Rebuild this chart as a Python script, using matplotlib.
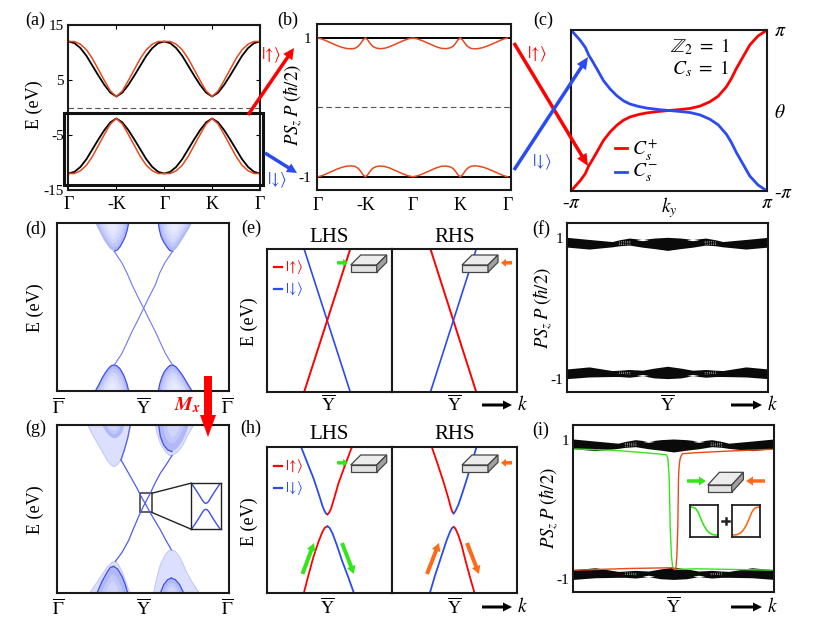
import numpy as np
import matplotlib
matplotlib.use("Agg")
import matplotlib.pyplot as plt
from matplotlib.patches import Polygon, Rectangle

plt.rcParams['font.family'] = ['Liberation Serif', 'DejaVu Serif']
plt.rcParams['mathtext.fontset'] = 'stix'
plt.rcParams['font.size'] = 13

RED, BLUE = '#ff0000', '#2b4bf0'
ORANGE, GREEN = '#e8481c', '#33e61a'
ARROW_OR = '#ff6a1a'
CONE = '#6c78ee'

# (a) band energies, half period Gamma -> -K
k_half = [0, .125, .25, .375, .5, .625, .75, .875, 1]
a_black_up = [12, 11.7, 10.8, 9.4, 7.6, 5.8, 4.1, 2.7, 2]
a_orange_up = [12, 12.0, 11.5, 10.5, 8.9, 6.9, 4.9, 3.0, 2]
# (b) polarisation of the valence band, half period
b_k = [0, .1, .2, .3, .4, .5, .6, .7, .78, .85, .9, .95, 1, 1.05, 1.1, 1.15, 1.22, 1.3, 1.4, 1.5, 1.6, 1.7, 1.8, 1.9, 2]
b_up = [1, .98, .95, .92, .89, .865, .848, .842, .85, .88, .92, .97, 1, .97, .92, .88, .855, .845, .85, .87, .9, .93,
        .96, .985, 1]
# (c) Wannier centres, in units of pi
c_k = [-1, -.956, -.905, -.854, -.82, -.78, -.735, -.668, -.6, -.532, -.464, -.397, -.31, -.227, -.108, 0, .112, .213,
       .315, .417, .502, .586, .637, .688, .756, .824, .908, 1]
c_plus = [-1, -.94, -.87, -.784, -.69, -.61, -.515, -.37, -.266, -.183, -.12, -.08, -.05, -.03, -.012, 0, .012, .025,
          .054, .108, .178, .295, .398, .523, .668, .813, .925, 1]
# (d) bulk cones and edge states, in reading units of the panel
d_cones = [
    ([285, 292, 300, 310, 320, 330, 342, 352, 360, 368, 375, 381, 385],
     [40, 55, 70, 90, 105, 118, 125, 120, 110, 95, 80, 60, 40], 'right'),
    ([474, 477, 482, 490, 500, 508, 517, 527, 537, 547, 555, 566, 575],
     [40, 60, 80, 97, 112, 122, 125, 118, 103, 88, 75, 57, 40], 'left'),
    ([285, 295, 305, 315, 325, 333, 342, 350, 358, 366, 372, 380, 385],
     [543, 525, 505, 488, 475, 467, 465, 468, 475, 488, 500, 522, 543], 'both'),
    ([474, 478, 485, 492, 500, 508, 517, 526, 535, 544, 552, 564, 575],
     [543, 522, 500, 485, 475, 467, 465, 470, 480, 492, 505, 525, 543], 'both'),
]
d_ss1_x = [342, 353, 365, 380, 395, 412, 430, 447, 465, 480, 495, 507, 517]
d_ss1_y = [125, 142, 160, 190, 225, 260, 295, 330, 365, 398, 430, 450, 465]
d_ss2_x = [517, 505, 493, 478, 465, 447, 430, 413, 395, 380, 365, 352, 342]
d_ss2_y = [125, 142, 160, 190, 225, 260, 295, 330, 365, 398, 430, 450, 465]
# (e) helical edge states
e_x = [-1, 1]
e_y_down = [1, -1]
# (f) polarisation band envelopes
f_x = [-1, -.78, -.55, -.48, -.38, -.25, -.13, 0, .13, .25, .38, .48, .55, .78, 1]
f_up_top = [1.01, .98, .95, .975, 1.0, .98, 1.0, 1.01, 1.0, .98, 1.0, .975, .95, .98, 1.01]
f_up_bot = [.871, .843, .875, .89, .90, .87, .85, .824, .85, .87, .90, .89, .875, .843, .871]
f_dn_top = [-.862, -.833, -.885, -.88, -.87, -.88, -.85, -.824, -.85, -.88, -.87, -.88, -.885, -.833, -.862]
f_dn_bot = [-1, -.976, -.97, -.97, -.98, -.96, -.99, -1, -.99, -.96, -.98, -.97, -.97, -.976, -1]
hole_x = [.19, .25, .31]
hole_up_a = [.975, .962, .975]
hole_up_b = [.975, .99, .975]
hole_dn_a = [-.955, -.94, -.955]
hole_dn_b = [-.955, -.965, -.955]
# (g) bulk cones and gapped edge states, in reading units of the panel
g_outer = [
    ([262, 280, 300, 320, 332, 340, 350, 362, 372, 382, 390], [45, 80, 115, 150, 165, 170, 165, 150, 120, 85, 45]),
    ([465, 470, 480, 495, 505, 515, 530, 545, 560, 580], [45, 70, 100, 125, 135, 137, 128, 110, 80, 45]),
    ([268, 285, 305, 322, 335, 345, 355, 367, 378, 388], [550, 525, 495, 470, 458, 455, 465, 490, 520, 550]),
    ([460, 468, 480, 495, 505, 513, 525, 540, 560, 580, 597], [550, 510, 465, 435, 423, 420, 425, 445, 490, 525, 550]),
]
g_inner = [
    ([305, 315, 325, 335, 345, 355, 365, 372], [45, 62, 75, 83, 85, 80, 68, 45], 'none'),
    ([475, 480, 490, 502, 515, 530, 545, 557, 565], [45, 80, 105, 120, 125, 115, 95, 70, 45], 'left'),
    ([290, 305, 320, 330, 340, 352, 365, 375, 382], [550, 515, 488, 473, 470, 478, 500, 525, 550], 'both'),
    ([480, 490, 502, 513, 525, 538, 550], [550, 525, 510, 505, 510, 525, 550], 'both'),
]
g_edge_x = [390, 382, 372, 362]
g_edge_y = [45, 85, 120, 150]
g_ss1_x = [362, 378, 395, 410, 420, 428, 436, 445, 455, 468, 480, 497, 513]
g_ss1_y = [150, 178, 208, 235, 255, 270, 283, 300, 318, 340, 360, 392, 420]
g_ss2_x = [515, 497, 480, 465, 450, 442, 436, 428, 415, 400, 385, 365, 345]
g_ss2_y = [137, 165, 190, 218, 250, 265, 277, 292, 320, 355, 392, 428, 455]
inset_x = [-1, -.7, -.45, -.25, -.12, 0, .12, .25, .45, .7, 1]
inset_up = [1, .68, .4, .16, .04, 0, .04, .16, .4, .68, 1]
# (h) gapped edge states, in reading units of the panel
hL_blue_up = ([198, 215, 235, 250, 262, 268, 273, 277], [112, 155, 205, 250, 288, 303, 311, 313])
hL_red_up = ([277, 282, 288, 297, 310, 330, 350], [313, 308, 295, 265, 220, 165, 112])
hL_red_lo = ([207, 220, 235, 250, 262, 270, 277], [545, 495, 440, 395, 365, 352, 349])
hL_blue_lo = ([277, 283, 292, 305, 320, 337, 355], [349, 353, 370, 405, 450, 495, 545])
hR_red_up = ([590, 605, 625, 640, 648, 652, 656], [112, 155, 215, 265, 295, 306, 310])
hR_blue_up = ([656, 661, 670, 682, 695, 710, 725], [310, 304, 285, 250, 210, 160, 112])
hR_blue_lo = ([585, 600, 620, 635, 645, 651, 656], [545, 495, 435, 390, 365, 354, 351])
hR_red_lo = ([656, 661, 670, 680, 690, 705, 718], [351, 355, 375, 405, 445, 500, 545])
# (i) edge-state polarisation
i_gx = [-.98, -.6, -.26, -.08, -.066, -.056, -.05, -.043, -.033, -.02, -.007, .01, .23, .98]
i_gy = [.867, .848, .81, .786, .776, .73, .6, .467, -.248, -.676, -.838, -.857, -.848, -.867]
i_ox = [-.98, -.43, -.017, .023, .033, .043, .05, .056, .066, .08, .093, .232, .563, .98]
i_oy = [-.867, -.843, -.833, -.857, -.676, -.248, .467, .62, .73, .78, .8, .814, .838, .862]
sig_x = [0, .1, .2, .3, .4, .5, .6, .7, .8, .9, 1]
sig_y = [1, .99, .95, .8, .55, .33, .17, .07, .02, 0, 0]

fig = plt.figure(figsize=(8.30, 6.23), dpi=100)
W, H = 830, 623


def panel(x0, y0, x1, y1, lw=1.5):
    ax = fig.add_axes([x0 / W, 1 - y1 / H, (x1 - x0) / W, (y1 - y0) / H])
    for s in ax.spines.values():
        s.set_linewidth(lw)
        s.set_color('#1a1a1a')
    ax.tick_params(length=0, labelsize=13)
    return ax


def full(x):
    x = np.asarray(x, float)
    return np.concatenate([x, 4 - x[-2::-1]])


def sym(y):
    y = np.asarray(y, float)
    return np.concatenate([y, y[-2::-1]])


G = r'$\overline{\mathrm{\Gamma}}$'
Y = r'$\overline{\mathrm{Y}}$'
kx_labels = ['Γ', '-K', 'Γ', 'K', 'Γ']
UP = r'$|\!\uparrow\!\rangle$'
DN = r'$|\!\downarrow\!\rangle$'

# ---------- (a)
ax = panel(68, 25, 260, 190)
kk = np.concatenate([k_half, 2 - np.array(k_half[-2::-1])])
kf = full(kk)
bu, ou = sym(sym(a_black_up)), sym(sym(a_orange_up))
for s in (1, -1):
    ax.plot(kf, s * bu, color='black', lw=1.3)
    ax.plot(kf, s * ou, color=ORANGE, lw=1.1)
ax.axhline(0, color='#555555', lw=.8, ls=(0, (5, 3)))
ax.set_xlim(-.01, 4.0)
ax.set_ylim(-15, 15)
ax.set_xticks([0, 1, 2, 3, 4], kx_labels)
ax.set_yticks([15, 5, -5, -15], ['15', '5', '-5', '-15'])
ax.tick_params(axis='y', direction='in', length=3, labelsize=11, right=True, pad=3)
ax.tick_params(axis='x', direction='in', length=3, top=True, pad=4)

# ---------- (b)
ax = panel(317, 24, 511, 190)
bkf = full(b_k)
byf = sym(b_up)
for s in (1, -1):
    ax.axhline(s, color='black', lw=1.4)
    ax.plot(bkf, s * byf, color=ORANGE, lw=1.1)
ax.axhline(0, color='#555555', lw=.8, ls=(0, (5, 3)))
ax.set_xlim(-.02, 4.07)
ax.set_ylim(-1.19, 1.2)
ax.set_xticks([0, 1, 2, 3, 4], kx_labels)
ax.set_yticks([1, -1], ['1', '-1'])
ax.tick_params(axis='y', labelsize=11, pad=4)
ax.tick_params(axis='x', pad=5)

# ---------- (c)
ax = panel(571, 30, 767, 191)
ax.plot(c_k, c_plus, color=RED, lw=2, solid_capstyle='round')
ax.plot(c_k, -np.array(c_plus), color=BLUE, lw=2, solid_capstyle='round')
ax.set_xlim(-1, 1)
ax.set_ylim(-1, 1)
ax.set_xticks([-1, 0, 1], ['-$\\pi$', '$k_y$', '$\\pi$'])
ax.yaxis.tick_right()
ax.set_yticks([-1, 0, 1], ['-$\\pi$', '$\\theta$', '$\\pi$'])
ax.tick_params(axis='both', labelsize=14)
ax.tick_params(axis='x', pad=3)
ax.tick_params(axis='y', pad=5)
ax.plot([-.55, -.43], [-.46, -.46], color=RED, lw=2)
ax.plot([-.55, -.43], [-.76, -.76], color=BLUE, lw=2)
ax.text(-.38, -.48, '$C_s^{+}$', ha='left', va='center', fontsize=14)
ax.text(-.38, -.78, '$C_s^{-}$', ha='left', va='center', fontsize=14)
ax.text(.32, .79, r'$\mathbb{Z}_2\ =\ 1$', ha='center', va='center', fontsize=14)
ax.text(.32, .52, r'$C_s\ =\ 1$', ha='center', va='center', fontsize=14)


def cone(ax, xs, ys, edge, scales=(1, .86, .72, .58, .44, .3)):
    xs, ys = np.asarray(xs, float), np.asarray(ys, float)
    cx, cy = (xs[0] + xs[-1]) / 2, ys[0]
    shades = ['#b0b8f7', '#c2c8f9', '#d0d5fb', '#dbdefc', '#e2e5fd', '#e8eafe']
    for s, c in zip(scales, shades):
        ax.fill(cx + (xs - cx) * s, cy + (ys - cy) * s, color=c, lw=0)
    n = int(np.argmax(np.abs(ys - cy)))
    if edge in ('left', 'both'):
        ax.plot(xs[:n + 1], ys[:n + 1], color='#4050ea', lw=.9)
    if edge in ('right', 'both'):
        ax.plot(xs[n:], ys[n:], color='#4050ea', lw=.9)


# ---------- (d)
ax = panel(57, 223, 229, 391)
for cx, cy, side in d_cones:
    cone(ax, cx, cy, side)
ax.plot(d_ss1_x, d_ss1_y, color=CONE, lw=.8)
ax.plot(d_ss2_x, d_ss2_y, color=CONE, lw=.8)
ax.set_xlim(170, 686)
ax.set_ylim(543, 40)
ax.set_yticks([])
ax.set_xticks([175, 430, 681], [G, Y, G])
ax.tick_params(axis='x', pad=5)


def slab(o, x, y, w=26, h=7.3, dx=10, dy=10):
    """x,y = lower-left corner of the front face, pixels"""
    o.add_patch(Polygon([(x, y - h), (x + dx, y - h - dy), (x + w + dx, y - h - dy), (x + w, y - h)],
                        fc='#ececec', ec='#444444', lw=.9))
    o.add_patch(Polygon([(x, y), (x, y - h), (x + w, y - h), (x + w, y)], fc='#e2e2e2', ec='#444444', lw=.9))
    o.add_patch(Polygon([(x + w, y), (x + w, y - h), (x + w + dx, y - h - dy), (x + w + dx, y - dy)],
                        fc='#a0a0a0', ec='#444444', lw=.9))


def legend_spin(ax_o, y_up, y_dn):
    ax_o.plot([274, 282], [y_up, y_up], color=RED, lw=1.6)
    ax_o.plot([274, 282], [y_dn, y_dn], color=BLUE, lw=1.6)
    ax_o.text(285, y_up, UP, color=RED, fontsize=10.5, ha='left', va='center')
    ax_o.text(285, y_dn, DN, color=BLUE, fontsize=10.5, ha='left', va='center')


# ---------- (e)
axL = panel(267, 249, 392, 392)
axR = panel(392, 249, 517, 392)
axL.plot(e_x, e_y_down, color=BLUE, lw=1.2)
axL.plot(e_x, -np.array(e_y_down), color=RED, lw=1.4)
axR.plot(e_x, e_y_down, color=RED, lw=1.4)
axR.plot(e_x, -np.array(e_y_down), color=BLUE, lw=1.2)
axL.set_xlim(-2.61, 2.81)
axR.set_xlim(-2.68, 2.78)
for a in (axL, axR):
    a.set_ylim(-1, 1)
    a.set_yticks([])
    a.set_xticks([.06], [Y])
    a.tick_params(axis='x', pad=2)
axL.set_title('LHS', fontsize=15, pad=5)
axR.set_title('RHS', fontsize=15, pad=5)


def poly_band(ax, top, bot):
    ax.fill_between(f_x, bot, top, color='#0a0a0a', lw=0)


def holes(ax):
    for sx in (-1, 1):
        xs = sx * np.array(hole_x)
        ax.fill_between(xs, hole_up_a, hole_up_b, color='white', lw=0)
        ax.fill_between(xs, hole_dn_a, hole_dn_b, color='white', lw=0)
        for y0 in (.955, .935, .915):
            ax.plot([sx * .37, sx * .49], [y0, y0 - .01], color='#bbbbbb', lw=.5, ls=(0, (1.5, 1.5)))
        for y0 in (-.915, -.935):
            ax.plot([sx * .37, sx * .49], [y0, y0 + .01], color='#bbbbbb', lw=.5, ls=(0, (1.5, 1.5)))


# ---------- (f)
ax = panel(567, 223, 768, 392)
poly_band(ax, f_up_top, f_up_bot)
poly_band(ax, f_dn_top, f_dn_bot)
holes(ax)
ax.set_xlim(-1, 1)
ax.set_ylim(-1.19, 1.214)
ax.set_yticks([1, -1], ['1', '-1'])
ax.set_xticks([0], [Y])
ax.tick_params(axis='y', labelsize=11, pad=3)
ax.tick_params(axis='x', pad=2)

# ---------- (g)
ax = panel(57, 425, 229, 593)
for cx, cy in g_outer:
    ax.fill(cx, cy, color='#dcdffd', lw=0)
    ax.plot(cx, cy, color='#bfc5f8', lw=.7)
for cx, cy, side in g_inner:
    cone(ax, cx, cy, side, scales=(1, .7, .45))
ax.plot(g_edge_x, g_edge_y, color='#5a66ea', lw=1)
ax.plot(g_ss1_x, g_ss1_y, color='#4f5cea', lw=.9)
ax.plot(g_ss2_x, g_ss2_y, color='#4f5cea', lw=.9)
ax.add_patch(Rectangle((418, 250), 37, 58, fc='none', ec='#444444', lw=1.2))
ax.plot([455, 572], [250, 220], color='#222222', lw=1)
ax.plot([455, 572], [308, 358], color='#222222', lw=1)
ax.set_xlim(170, 686)
ax.set_ylim(550, 45)
ax.set_yticks([])
ax.set_xticks([175, 430, 681], [G, Y, G])
ax.tick_params(axis='x', pad=4)
ins = fig.add_axes([(572 / 3) / W, 1 - (410 + 358 / 3) / H, (91 / 3) / W, (138 / 3) / H])
ins.plot(inset_x, .13 + .85 * np.array(inset_up), color='#3f4ee8', lw=1)
ins.plot(inset_x, -.13 - .85 * np.array(inset_up), color='#3f4ee8', lw=1)
ins.set_xlim(-1.1, 1.1)
ins.set_ylim(-1.02, 1.02)
ins.set_xticks([])
ins.set_yticks([])
for s in ins.spines.values():
    s.set_linewidth(1)
    s.set_color('#222222')

# ---------- (h)
axL = panel(267, 447, 392, 593)
axR = panel(392, 447, 517, 593)
for pts, col in ((hL_blue_up, BLUE), (hL_red_up, RED), (hL_red_lo, RED), (hL_blue_lo, BLUE)):
    axL.plot(pts[0], pts[1], color=col, lw=1.3)
for pts, col in ((hR_red_up, RED), (hR_blue_up, BLUE), (hR_blue_lo, BLUE), (hR_red_lo, RED)):
    axR.plot(pts[0], pts[1], color=col, lw=1.3)
axL.set_xlim(96, 470)
axR.set_xlim(470, 847)
axL.set_xticks([278], [Y])
axR.set_xticks([658], [Y])
for a in (axL, axR):
    a.set_ylim(548, 112)
    a.set_yticks([])
    a.tick_params(axis='x', pad=3)
axL.set_title('LHS', fontsize=15, pad=6)
axR.set_title('RHS', fontsize=15, pad=6)

# ---------- (i)
ax = panel(573, 425, 774, 592)
poly_band(ax, f_up_top, f_up_bot)
poly_band(ax, f_dn_top, f_dn_bot)
holes(ax)
ax.plot(i_gx, i_gy, color=GREEN, lw=1)
ax.plot(i_ox, i_oy, color=ORANGE, lw=1)
ax.set_xlim(-1, 1)
ax.set_ylim(-1.18, 1.21)
ax.set_yticks([1, -1], ['1', '-1'])
ax.set_xticks([0], [Y])
ax.tick_params(axis='y', labelsize=11, pad=3)
ax.tick_params(axis='x', pad=3)
for (x0, col, yd) in ((530 + 480 / 3, GREEN, sig_y), (530 + 606 / 3, ARROW_OR, sig_y[::-1])):
    a = fig.add_axes([x0 / W, 1 - (410 + 380 / 3) / H, (84 / 3) / W, (94 / 3) / H])
    a.plot(sig_x, yd, color=col, lw=1.2)
    a.set_xlim(0, 1)
    a.set_ylim(-.06, 1.06)
    a.set_xticks([])
    a.set_yticks([])
    for s in a.spines.values():
        s.set_linewidth(1.3)
        s.set_color('#222222')

# ---------- overlay, pixel coordinates
o = fig.add_axes([0, 0, 1, 1], zorder=20)
o.set_xlim(0, W)
o.set_ylim(H, 0)
o.axis('off')
o.patch.set_alpha(0)


def arr(x0, y0, x1, y1, c, w=3.5, hw=11, hl=11):
    o.arrow(x0, y0, x1 - x0, y1 - y0, width=w, head_width=hw, head_length=hl,
            length_includes_head=True, color=c, lw=0)


for txt, x, y in (('(a)', 35, 20), ('(b)', 288, 20), ('(c)', 543, 20), ('(d)', 36, 229), ('(e)', 251, 228),
                  ('(f)', 541, 229), ('(g)', 36, 428), ('(h)', 251, 428), ('(i)', 541, 430)):
    o.text(x, y, txt, ha='center', va='center', fontsize=13)
for x, y in ((34, 105), (35, 308), (35, 510), (249, 322), (249, 522)):
    o.text(x, y, 'E (eV)', rotation=90, ha='center', va='center', fontsize=13)
psz = r'$PS_z\,P\;(\hbar/2)$'
for x, y in ((293, 105), (543, 308), (549, 508)):
    o.text(x, y, psz, rotation=90, ha='center', va='center', fontsize=13.5)

o.add_patch(Rectangle((64, 113), 199, 72, fc='none', ec='#111111', lw=2.2))
arr(248, 115, 294, 48, RED, w=3.5, hw=11, hl=11)
arr(265, 153, 297, 173, BLUE, w=3.5, hw=10, hl=10)
arr(514, 43, 588, 166, RED, w=3.5, hw=11, hl=12)
arr(514, 170, 588, 57, BLUE, w=3.5, hw=11, hl=12)
o.text(271, 55, UP, color=RED, fontsize=12, ha='center', va='center')
o.text(277, 180, DN, color=BLUE, fontsize=12, ha='center', va='center')
o.text(537, 54, UP, color=RED, fontsize=12, ha='center', va='center')
o.text(542, 162, DN, color=BLUE, fontsize=12, ha='center', va='center')

arr(208, 376, 208, 437, RED, w=8, hw=16, hl=22)
o.text(187, 405, r'$\mathbfit{M}_{\mathbfit{x}}$', color=RED, fontsize=14, ha='center', va='center')

legend_spin(o, 267, 289)
legend_spin(o, 466, 488)
for base in (272.3, 472.3):
    slab(o, 350.7, base)
    slab(o, 462, base)
    arr(337, base - 9.5, 348, base - 9.5, GREEN, w=3.5, hw=8, hl=5)
    arr(512, base - 9.5, 501, base - 9.5, ARROW_OR, w=3.5, hw=8, hl=5)
for yy in (405, 607):
    arr(482, yy, 512, yy, 'black', w=3, hw=9, hl=9)
    o.text(522, yy, '$k$', fontsize=14, ha='center', va='center')
    arr(731, yy, 762, yy, 'black', w=3, hw=9, hl=9)
    o.text(772, yy, '$k$', fontsize=14, ha='center', va='center')

arr(302.5, 574, 314, 543, GREEN, w=4, hw=9, hl=8)
arr(342, 543, 354, 574, GREEN, w=4, hw=9, hl=8)
arr(427, 574, 439, 543, ARROW_OR, w=4, hw=9, hl=8)
arr(467, 543, 479, 574, ARROW_OR, w=4, hw=9, hl=8)

slab(o, 707.7, 492.3, w=24, h=7.3, dx=11.7, dy=12.7)
arr(687, 481, 706, 481, GREEN, w=3.5, hw=9, hl=7)
arr(765, 481, 746, 481, ARROW_OR, w=3.5, hw=9, hl=7)
o.plot([722, 729], [521, 521], color='#222222', lw=1.8)
o.plot([725.5, 725.5], [518, 524], color='#222222', lw=1.8)

fig.savefig('out.png', dpi=100)
